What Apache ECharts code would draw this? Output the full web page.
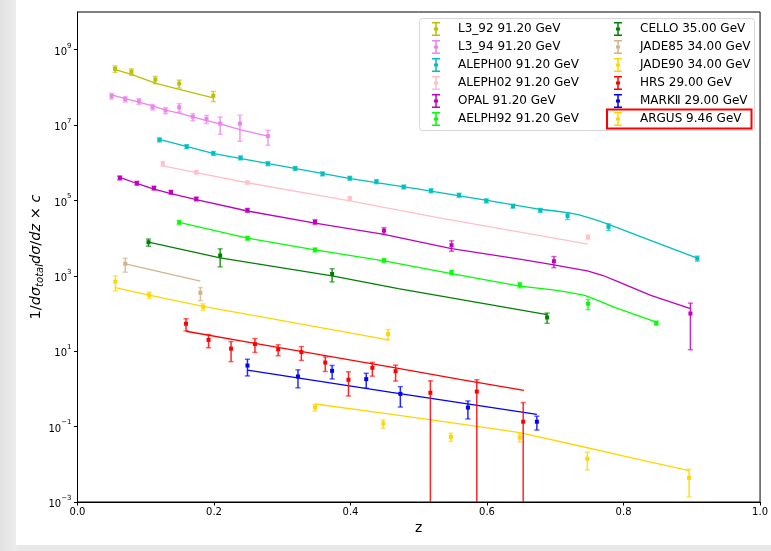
<!DOCTYPE html>
<html>
<head>
<meta charset="utf-8">
<script src="https://cdn.jsdelivr.net/npm/echarts@6/dist/echarts.min.js"></script>
<style>
  html, body { margin: 0; padding: 0; }
  body { width: 771px; height: 551px; position: relative; overflow: hidden;
         background: linear-gradient(to right, #e2e2e2 0px, #ececec 16px, #e8e8e8 17px); }
  #paper { position: absolute; left: 16px; top: 0; width: 755px; height: 545px; background: #ffffff; }
  #chart { position: absolute; left: 0; top: 0; width: 771px; height: 551px; }
</style>
</head>
<body>
<div id="paper"></div>
<div id="chart"></div>
<script>
// ---------------- data ----------------
const L3_92_z   = [0.055, 0.079, 0.114, 0.149, 0.199];
const L3_92_y   = [3.1e8, 2.6e8, 1.6e8, 1.26e8, 6.0e7];
const L3_92_err = [6e7, 5e7, 3.5e7, 3e7, 1.8e7];
const L3_92_fitZ = [0.055, 0.079, 0.114, 0.149, 0.199];
const L3_92_fitY = [2.95e8, 2.2e8, 1.29e8, 8.9e7, 5.25e7];

const L3_94_z   = [0.050, 0.070, 0.090, 0.110, 0.129, 0.149, 0.169, 0.189, 0.209, 0.238, 0.279];
const L3_94_y   = [5.9e7, 4.9e7, 4.27e7, 3.02e7, 2.45e7, 2.95e7, 1.66e7, 1.45e7, 1.1e7, 1.1e7, 5.1e6];
const L3_94_err = [1e7, 8e6, 7e6, 5e6, 4.5e6, 7.5e6, 3.5e6, 3.5e6, 5.3e6, 7.3e6, 2.2e6];
const L3_94_fitZ = [0.050, 0.070, 0.090, 0.110, 0.129, 0.149, 0.169, 0.189, 0.209, 0.238, 0.279];
const L3_94_fitY = [6.3e7, 5.0e7, 4.07e7, 3.24e7, 2.51e7, 2.09e7, 1.66e7, 1.32e7, 1.07e7, 7.6e6, 5.1e6];

const ALEPH00_z   = [0.12, 0.16, 0.199, 0.239, 0.279, 0.319, 0.359, 0.399, 0.438, 0.478, 0.518, 0.559, 0.599, 0.638, 0.678, 0.718, 0.778, 0.908];
const ALEPH00_y   = [4.07e6, 2.69e6, 1.78e6, 1.35e6, 9.5e5, 7.1e5, 5.1e5, 3.9e5, 3.16e5, 2.29e5, 1.82e5, 1.38e5, 9.8e4, 7.1e4, 5.5e4, 3.9e4, 2.0e4, 2.9e3];
const ALEPH00_err = [4.9e5, 3.2e5, 2.1e5, 1.6e5, 1.1e5, 8.5e4, 6.1e4, 4.7e4, 3.8e4, 2.7e4, 2.2e4, 1.7e4, 1.2e4, 8.5e3, 6.6e3, 7.8e3, 4.0e3, 4.4e2];
const ALEPH00_fitZ = [0.12, 0.2, 0.3, 0.4, 0.5, 0.6, 0.68, 0.70, 0.72, 0.735, 0.75, 0.765, 0.78, 0.85, 0.908];
const ALEPH00_fitY = [4.17e6, 1.74e6, 8.1e5, 3.8e5, 2.0e5, 1.0e5, 5.75e4, 5.25e4, 4.68e4, 4.17e4, 3.47e4, 2.82e4, 2.24e4, 7.41e3, 2.95e3];

const ALEPH02_z   = [0.125, 0.174, 0.249, 0.399, 0.748];
const ALEPH02_y   = [9.5e5, 5.6e5, 3.0e5, 1.15e5, 1.07e4];
const ALEPH02_err = [1.4e5, 6e4, 3e4, 1.2e4, 1.5e3];
const ALEPH02_fitZ = [0.125, 0.174, 0.249, 0.399, 0.528, 0.748];
const ALEPH02_fitY = [8.3e5, 5.5e5, 2.95e5, 9.8e4, 3.5e4, 6.9e3];

const OPAL_z   = [0.062, 0.087, 0.112, 0.137, 0.174, 0.249, 0.348, 0.449, 0.548, 0.698, 0.898];
const OPAL_y   = [3.98e5, 2.88e5, 2.14e5, 1.66e5, 1.10e5, 5.5e4, 2.69e4, 1.58e4, 6.5e3, 2.45e3, 100];
const OPAL_err = [4.8e4, 3.5e4, 2.6e4, 2.0e4, 1.3e4, 6.6e3, 4e3, 3.2e3, 2e3, 8e2, 89];
const OPAL_fitZ = [0.062, 0.087, 0.112, 0.137, 0.174, 0.249, 0.348, 0.449, 0.548, 0.65, 0.698, 0.72, 0.747, 0.77, 0.79, 0.84, 0.898];
const OPAL_fitY = [4.07e5, 2.82e5, 2.0e5, 1.51e5, 1.05e5, 5.25e4, 2.51e4, 1.26e4, 5.25e3, 2.75e3, 1.95e3, 1.66e3, 1.35e3, 1.02e3, 7.24e2, 3.02e2, 1.35e2];

const AELPH92_z   = [0.149, 0.249, 0.348, 0.449, 0.548, 0.648, 0.748, 0.848];
const AELPH92_y   = [2.63e4, 1.0e4, 4.9e3, 2.57e3, 1.23e3, 575, 182, 56];
const AELPH92_err = [3.2e3, 1.2e3, 6e2, 3.1e2, 1.5e2, 95, 55, 7];
const AELPH92_fitZ = [0.149, 0.249, 0.348, 0.449, 0.548, 0.648, 0.70, 0.72, 0.743, 0.765, 0.786, 0.848];
const AELPH92_fitY = [2.63e4, 1.0e4, 4.9e3, 2.51e3, 1.15e3, 537, 417, 363, 302, 214, 148, 59];

const CELLO_z   = [0.104, 0.209, 0.373, 0.688];
const CELLO_y   = [7.8e3, 3.47e3, 1.12e3, 79];
const CELLO_err = [1.7e3, 1.74e3, 4.3e2, 24];
const CELLO_fitZ = [0.104, 0.209, 0.373, 0.47, 0.688];
const CELLO_fitY = [7.9e3, 3.0e3, 1.0e3, 457, 93];

const JADE85_z   = [0.070, 0.180];
const JADE85_y   = [2.09e3, 355];
const JADE85_err = [840, 135];
const JADE85_fitZ = [0.070, 0.180];
const JADE85_fitY = [2.09e3, 724];

const JADE90_z   = [0.0555, 0.105, 0.184, 0.455];
const JADE90_y   = [700, 309, 151, 28.8];
const JADE90_err = [300, 62, 30, 9];
const JADE90_fitZ = [0.0555, 0.105, 0.184, 0.3, 0.455];
const JADE90_fitY = [490, 309, 155, 65, 20];

const HRS_z   = [0.159, 0.192, 0.225, 0.260, 0.294, 0.328, 0.363, 0.397, 0.432, 0.466, 0.517, 0.585, 0.653];
const HRS_y   = [53.7, 20.0, 11.7, 15.5, 11.2, 9.5, 5.0, 1.75, 3.63, 2.95, 0.79, 0.85, 0.135];
const HRS_err = [19, 7.6, 6.4, 6.2, 3.6, 3.8, 2.1, 1.1, 1.45, 1.33, 0.85, 0.9, 0.30];
const HRS_fitZ = [0.159, 0.26, 0.363, 0.466, 0.56, 0.654];
const HRS_fitY = [33.9, 16.2, 7.6, 3.6, 1.8, 0.91];

const MARKII_z   = [0.249, 0.323, 0.373, 0.423, 0.473, 0.572, 0.673];
const MARKII_y   = [4.17, 2.14, 3.02, 1.82, 0.74, 0.32, 0.135];
const MARKII_err = [1.96, 1.07, 1.18, 0.78, 0.41, 0.16, 0.054];
const MARKII_fitZ = [0.249, 0.46, 0.673];
const MARKII_fitY = [3.16, 0.81, 0.21];

const ARGUS_z   = [0.348, 0.448, 0.547, 0.648, 0.747, 0.896];
const ARGUS_y   = [0.324, 0.120, 0.0537, 0.0513, 0.0141, 0.00437];
const ARGUS_err = [0.065, 0.03, 0.013, 0.012, 0.007, 0.003];
const ARGUS_fitZ = [0.348, 0.45, 0.55, 0.648, 0.747, 0.82, 0.896];
const ARGUS_fitY = [0.398, 0.224, 0.126, 0.069, 0.0275, 0.0138, 0.00676];

const yTickExponents = [-3, -1, 1, 3, 5, 7, 9];
const xTicks = [0.0, 0.2, 0.4, 0.6, 0.8, 1.0];

const DATASETS = [
  { name: 'L3_92 91.20 GeV',   color: '#bfbf00', z: L3_92_z,   y: L3_92_y,   err: L3_92_err,   fz: L3_92_fitZ,   fy: L3_92_fitY },
  { name: 'L3_94 91.20 GeV',   color: '#ee82ee', z: L3_94_z,   y: L3_94_y,   err: L3_94_err,   fz: L3_94_fitZ,   fy: L3_94_fitY },
  { name: 'ALEPH00 91.20 GeV', color: '#00bfbf', z: ALEPH00_z, y: ALEPH00_y, err: ALEPH00_err, fz: ALEPH00_fitZ, fy: ALEPH00_fitY },
  { name: 'ALEPH02 91.20 GeV', color: '#ffc0cb', z: ALEPH02_z, y: ALEPH02_y, err: ALEPH02_err, fz: ALEPH02_fitZ, fy: ALEPH02_fitY },
  { name: 'OPAL 91.20 GeV',    color: '#bf00bf', z: OPAL_z,    y: OPAL_y,    err: OPAL_err,    fz: OPAL_fitZ,    fy: OPAL_fitY },
  { name: 'AELPH92 91.20 GeV', color: '#00ff00', z: AELPH92_z, y: AELPH92_y, err: AELPH92_err, fz: AELPH92_fitZ, fy: AELPH92_fitY },
  { name: 'CELLO 35.00 GeV',   color: '#008000', z: CELLO_z,   y: CELLO_y,   err: CELLO_err,   fz: CELLO_fitZ,   fy: CELLO_fitY },
  { name: 'JADE85 34.00 GeV',  color: '#d2b48c', z: JADE85_z,  y: JADE85_y,  err: JADE85_err,  fz: JADE85_fitZ,  fy: JADE85_fitY },
  { name: 'JADE90 34.00 GeV',  color: '#ffd700', z: JADE90_z,  y: JADE90_y,  err: JADE90_err,  fz: JADE90_fitZ,  fy: JADE90_fitY },
  { name: 'HRS 29.00 GeV',     color: '#ff0000', z: HRS_z,     y: HRS_y,     err: HRS_err,     fz: HRS_fitZ,     fy: HRS_fitY },
  { name: 'MARKⅡ 29.00 GeV',   color: '#0000ff', z: MARKII_z,  y: MARKII_y,  err: MARKII_err,  fz: MARKII_fitZ,  fy: MARKII_fitY },
  { name: 'ARGUS 9.46 GeV',    color: '#ffd700', z: ARGUS_z,   y: ARGUS_y,   err: ARGUS_err,   fz: ARGUS_fitZ,   fy: ARGUS_fitY }
];

// ---------------- chart ----------------
const FONT = 'DejaVu Sans';
const GRID = { left: 77.5, top: 12, width: 684.5, height: 490 };
const ICON = 'path://M0,0H8V1.5H0Z M3.25,0H4.75V14H3.25Z M0,12.5H8V14H0Z M2,5.5H6V8.5H2Z';

function supLabel(v) {
  const k = Math.round(v);
  const e = k < 0 ? '\u2212' + (-k) : String(k);
  return '{b|10}{s|' + e + '}';
}

function errorRender(params, api) {
  const x = api.value(0);
  const v = api.value(2);
  const e = api.value(3);
  const color = api.visual('color');
  const p = api.coord([x, Math.log10(v)]);
  const top = api.coord([x, Math.log10(v + e)]);
  const lo = v - e;
  const bot = api.coord([x, lo > 0 ? Math.log10(lo) : -8]);
  const cw = 2.6;
  const children = [
    { type: 'line', shape: { x1: p[0], y1: top[1], x2: p[0], y2: bot[1] },
      style: { stroke: color, lineWidth: 1.5, opacity: 0.85 } },
    { type: 'line', shape: { x1: p[0] - cw, y1: top[1], x2: p[0] + cw, y2: top[1] },
      style: { stroke: color, lineWidth: 1.5, opacity: 0.6 } },
    { type: 'rect', shape: { x: p[0] - 2, y: p[1] - 2, width: 4, height: 4 },
      style: { fill: color } }
  ];
  if (lo > 0) {
    children.push({ type: 'line', shape: { x1: p[0] - cw, y1: bot[1], x2: p[0] + cw, y2: bot[1] },
      style: { stroke: color, lineWidth: 1.5, opacity: 0.6 } });
  }
  return { type: 'group', children: children };
}

const series = [];
DATASETS.forEach(function (d) {
  series.push({
    name: d.name + ' fit',
    type: 'line',
    data: d.fz.map(function (z, i) { return [z, Math.log10(d.fy[i])]; }),
    showSymbol: false,
    smooth: false,
    lineStyle: { color: d.color, width: 1.3 },
    itemStyle: { color: d.color },
    silent: true,
    z: 2
  });
  series.push({
    name: d.name,
    type: 'custom',
    renderItem: errorRender,
    clip: true,
    itemStyle: { color: d.color },
    dimensions: ['z', 'logy', 'y', 'err'],
    encode: { x: 0, y: 1 },
    data: d.z.map(function (z, i) { return [z, Math.log10(d.y[i]), d.y[i], d.err[i]]; }),
    silent: true,
    z: 3
  });
});

const legendCommon = {
  orient: 'vertical',
  top: 17,
  itemWidth: 34,
  itemHeight: 14,
  itemGap: 4,
  icon: ICON,
  symbolKeepAspect: true,
  selectedMode: false,
  textStyle: { fontFamily: FONT, fontSize: 12, color: '#000', lineHeight: 14 },
  z: 10
};

const chart = echarts.init(document.getElementById('chart'), null, { renderer: 'canvas' });
chart.setOption({
  animation: false,
  backgroundColor: 'transparent',
  textStyle: { fontFamily: FONT },
  grid: Object.assign({ show: true, borderColor: '#000', borderWidth: 1, backgroundColor: 'transparent' }, GRID),
  xAxis: {
    type: 'value', min: 0, max: 1, interval: 0.2,
    axisLine: { show: true, onZero: false, lineStyle: { color: '#000', width: 1 } },
    axisTick: { show: true, length: 3.5, lineStyle: { color: '#000', width: 1 }, customValues: xTicks },
    axisLabel: { color: '#000', fontSize: 10, fontFamily: FONT, margin: 5,
                 customValues: xTicks, formatter: function (v) { return v.toFixed(1); } },
    splitLine: { show: false },
    name: 'z', nameLocation: 'middle', nameGap: 19, nameMoveOverlap: false,
    nameTextStyle: { fontFamily: FONT, fontSize: 14, color: '#000' }
  },
  yAxis: {
    type: 'value', min: -3, max: 10, interval: 1,
    axisLine: { show: true, onZero: false, lineStyle: { color: '#000', width: 1 } },
    axisTick: { show: true, length: 3.5, lineStyle: { color: '#000', width: 1 }, customValues: yTickExponents },
    axisLabel: {
      color: '#000', margin: 6, customValues: yTickExponents,
      formatter: supLabel,
      rich: {
        b: { fontFamily: FONT, fontSize: 10, color: '#000', verticalAlign: 'bottom', lineHeight: 15 },
        s: { fontFamily: FONT, fontSize: 7, color: '#000', verticalAlign: 'top', lineHeight: 15 }
      }
    },
    splitLine: { show: false },
    name: '{u|1/}{i|dσ}{t|total}{i|dσ}{u|/}{i|dz}{u| × }{i|c}',
    nameLocation: 'middle', nameGap: 32, nameRotate: 90, nameMoveOverlap: false,
    nameTextStyle: {
      rich: {
        u: { fontFamily: FONT, fontSize: 14.5, color: '#000', verticalAlign: 'middle', lineHeight: 18 },
        i: { fontFamily: FONT, fontSize: 14.5, fontStyle: 'italic', color: '#000', verticalAlign: 'middle', lineHeight: 18 },
        t: { fontFamily: FONT, fontSize: 10, fontStyle: 'italic', color: '#000', verticalAlign: 'bottom', lineHeight: 18 }
      }
    }
  },
  legend: [
    Object.assign({ left: 427, data: DATASETS.slice(0, 6).map(function (d) { return d.name; }) }, legendCommon),
    Object.assign({ left: 609, data: DATASETS.slice(6).map(function (d) { return d.name; }) }, legendCommon)
  ],
  graphic: [
    { type: 'rect', z: 5, shape: { x: 419.5, y: 18.5, width: 335, height: 112, r: 3 },
      style: { fill: 'rgba(255,255,255,0.85)', stroke: '#d6d6d6', lineWidth: 1 } },
    { type: 'rect', z: 20, shape: { x: 607, y: 109.5, width: 144.5, height: 19 },
      style: { fill: 'none', stroke: '#ff0000', lineWidth: 2 } }
  ],
  series: series
});
</script>
</body>
</html>
